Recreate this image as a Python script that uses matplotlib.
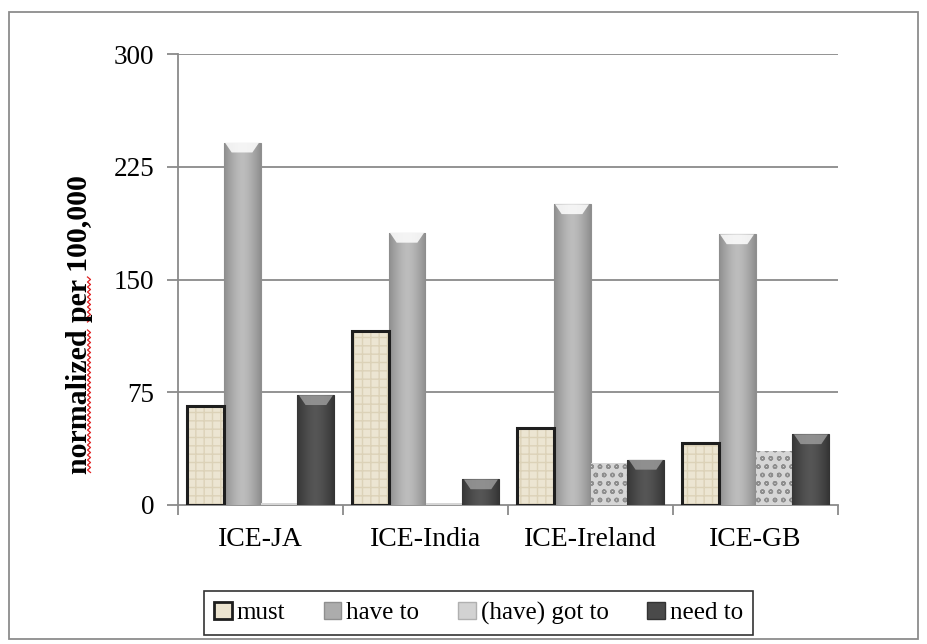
import numpy as np
import matplotlib
matplotlib.use("Agg")
import matplotlib.pyplot as plt
from matplotlib.colors import LinearSegmentedColormap
from matplotlib.patches import Patch, Polygon, Rectangle
from matplotlib.lines import Line2D

# --- data -------------------------------------------------------------
corpora = ["ICE-JA", "ICE-India", "ICE-Ireland", "ICE-GB"]
series_names = ["must", "have to", "(have) got to", "need to"]
must = [66, 116, 51, 41]
have_to = [241, 181, 200, 180]
got_to = [1, 1, 28, 36]
need_to = [73, 17, 30, 47]
y_ticks = [0, 75, 150, 225, 300]
y_label = "normalized per 100,000"

plt.rcParams["font.family"] = ["Liberation Serif", "DejaVu Serif"]
plt.rcParams["hatch.linewidth"] = 1.0

W, H = 928, 644
fig = plt.figure(figsize=(W / 100, H / 100), dpi=100)

# outer chart frame
fig.patches.append(Rectangle((9 / W, 1 - 639 / H), (918 - 9) / W, (639 - 12) / H,
                             transform=fig.transFigure, fill=False,
                             edgecolor="#8c8c8c", linewidth=1.3))

ax = fig.add_axes([178 / W, 1 - 505 / H, (838 - 178) / W, (505 - 54) / H])

n = len(series_names)
bw = 0.224
x = np.arange(len(corpora))
offsets = (np.arange(n) - (n - 1) / 2) * bw

GRID = "#8a8a8a"
for yt in y_ticks[1:]:
    ax.axhline(yt, color=GRID, linewidth=1.3, zorder=1)


def gradient_fill(bars, edge_col, mid_col, z):
    cmap = LinearSegmentedColormap.from_list("g", [edge_col, mid_col])
    prof = 1 - np.abs(np.linspace(-1, 1, 64)) ** 1.5
    for b in bars:
        bx, w, h = b.get_x(), b.get_width(), b.get_height()
        im = ax.imshow(prof[None, :], extent=(bx, bx + w, 0, h), aspect="auto",
                       cmap=cmap, vmin=0, vmax=1, zorder=z, interpolation="bilinear")
        im.set_clip_path(b)


def bevel(bars, col, depth, z):
    for b in bars:
        bx, w, h = b.get_x(), b.get_width(), b.get_height()
        if h <= depth * 1.5:
            continue
        pts = [(bx + 0.04 * w, h), (bx + 0.96 * w, h),
               (bx + 0.78 * w, h - depth), (bx + 0.22 * w, h - depth)]
        ax.add_patch(Polygon(pts, closed=True, facecolor=col, edgecolor="none",
                             alpha=0.85, zorder=z))


# must: beige textured bars with a dark frame
b_must = ax.bar(x + offsets[0], must, bw, facecolor="#ece5d2", edgecolor="#dcd2b8",
                hatch="++", linewidth=0, zorder=3)
ax.bar(x + offsets[0], must, bw, facecolor="none", edgecolor="#1e1e1e",
       linewidth=2.2, zorder=4)

# have to: grey cylinders
b_have = ax.bar(x + offsets[1], have_to, bw, facecolor="#aaaaaa",
                edgecolor="#8f8f8f", linewidth=0.8, zorder=3)
gradient_fill(b_have, "#8e8e8e", "#bdbdbd", 3.5)
bevel(b_have, "#ffffff", 6.5, 4)

# (have) got to: speckled light grey
b_got = ax.bar(x + offsets[2], got_to, bw, facecolor="#d6d6d6", edgecolor="#8e8e8e",
               hatch="oo", linewidth=0, zorder=3)

# need to: dark grey cylinders
b_need = ax.bar(x + offsets[3], need_to, bw, facecolor="#4a4a4a",
                edgecolor="#333333", linewidth=0.8, zorder=3)
gradient_fill(b_need, "#363636", "#565656", 3.5)
bevel(b_need, "#9a9a9a", 6.5, 4)

ax.set_xlim(-0.5, len(corpora) - 0.5)
ax.set_ylim(0, 300)
ax.set_yticks(y_ticks)
ax.set_yticklabels([str(v) for v in y_ticks], fontsize=19.5)
ax.set_xticks(x)
ax.set_xticklabels(corpora, fontsize=20)
ax.tick_params(axis="x", length=0, pad=16)
ax.tick_params(axis="y", length=8, width=1.3, color=GRID, pad=9)
# category boundary ticks on the x axis
ax.set_xticks(np.arange(len(corpora) + 1) - 0.5, minor=True)
ax.tick_params(axis="x", which="minor", length=7, width=1.3, color=GRID)

for s in ["top", "right"]:
    ax.spines[s].set_visible(False)
for s in ["left", "bottom"]:
    ax.spines[s].set_color(GRID)
    ax.spines[s].set_linewidth(1.3)

fig.text(80 / W, 1 - 325 / H, y_label, rotation=90, ha="center", va="center",
         fontsize=21.5, fontweight="bold")

# red spell-check squiggle beside "normalized per"
def squiggle(x0, y0, y1):
    ys = np.arange(y0, y1, 2.5)
    xs = x0 + np.where(np.arange(len(ys)) % 2 == 0, -1.5, 1.5)
    fig.add_artist(Line2D(xs / W, 1 - ys / H, color="#e02020", linewidth=0.9,
                          transform=fig.transFigure))

squiggle(89, 277, 323)
squiggle(89, 330, 473)

handles = [
    Patch(facecolor="#ebe3cf", edgecolor="#1e1e1e", linewidth=2),
    Patch(facecolor="#acacac", edgecolor="#8f8f8f"),
    Patch(facecolor="#d2d2d2", edgecolor="#b0b0b0"),
    Patch(facecolor="#4a4a4a", edgecolor="#333333"),
]
leg = fig.legend(handles, series_names, loc="center", ncol=4,
                 bbox_to_anchor=((202 + 755) / 2 / W, 1 - 613 / H),
                 fontsize=18, frameon=True, fancybox=False, edgecolor="black",
                 handlelength=0.7, handleheight=0.7, handletextpad=0.2,
                 columnspacing=1.55, borderpad=0.4)
leg.get_frame().set_linewidth(1.2)

fig.savefig("out.png", dpi=100)
